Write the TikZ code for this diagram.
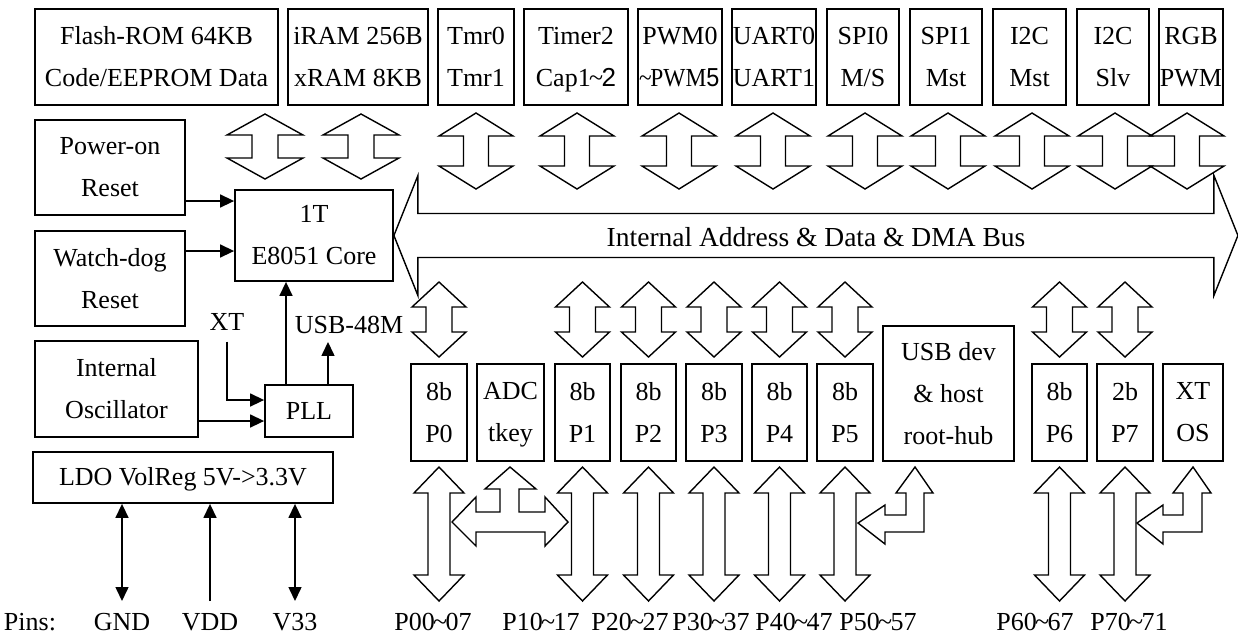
\documentclass[tikz,border=0pt]{standalone}
\usepackage{fontspec}
\usepackage{graphicx}
\setmainfont{Liberation Serif}
\newfontfamily\sansdigit{Liberation Sans}
\usetikzlibrary{arrows.meta,calc}
\newcommand{\bigfs}{\fontsize{26}{42}\selectfont}
\newcommand{\tld}{\kern-0.06em\textasciitilde\kern-0.06em}
% hollow vertical double arrow: top tip, length, head half, shaft half, head length
\newcommand{\vdbl}[5]{\draw[hollow] #1 -- ++(#3,#5) -- ++({#4-#3},0)
  -- ++(0,{#2-2*#5}) -- ++({#3-#4},0) -- ++({-#3},#5) -- ++({-#3},{-#5})
  -- ++({#3-#4},0) -- ++(0,{-(#2-2*#5)}) -- ++({#4-#3},0) -- cycle;}
\tikzset{
  blk/.style    = {draw, line width=1.8pt, align=center, inner sep=0pt, font=\bigfs},
  topblk/.style = {blk, minimum height=96},
  portblk/.style= {blk, minimum height=97},
  lbl/.style    = {font=\bigfs, inner sep=0pt},
  hollow/.style = {line width=1.4pt, line join=miter},
  ar/.style     = {-{Triangle[length=14pt,width=13pt]}, line width=1.5pt},
  dar/.style    = {{Triangle[length=14pt,width=13pt]}-{Triangle[length=14pt,width=13pt]}, line width=1.5pt}
}

\begin{document}
\begin{tikzpicture}[x=1pt, y=-1pt]
\useasboundingbox (0,0) rectangle (1238,641);

% peripheral row
\node[topblk, minimum width=243] (flash) at (156.5,57) {Flash-ROM 64KB\\Code/EEPROM Data};
\node[topblk, minimum width=140] (iram)  at (358,57)   {iRAM 256B\\xRAM 8KB};
\node[topblk, minimum width=76]  (tmr)   at (476,57)   {Tmr0\\Tmr1};
\node[topblk, minimum width=104] (timer) at (576,57)   {\strut Timer2\\\strut Cap1\tld{\sansdigit 2}};
\node[topblk, minimum width=84]  (pwm)   at (680,57)   {PWM0\\\scalebox{0.9}[1]{\tld PWM{\sansdigit 5}}};
\node[topblk, minimum width=84]  (uart)  at (774,57)   {UART0\\UART1};
\node[topblk, minimum width=72]  (spi0)  at (863,57)   {SPI0\\M/S};
\node[topblk, minimum width=72]  (spi1)  at (946,57)   {SPI1\\Mst};
\node[topblk, minimum width=73]  (i2cm)  at (1029.5,57){I2C\\Mst};
\node[topblk, minimum width=72]  (i2cs)  at (1113,57)  {I2C\\Slv};
\node[topblk, minimum width=64]  (rgb)   at (1191,57)  {RGB\\PWM};

% core side
\node[blk, minimum width=150, minimum height=95] (por)  at (110,167.5) {Power-on\\Reset};
\node[blk, minimum width=150, minimum height=95] (wdg)  at (110,278.5) {Watch-dog\\Reset};
\node[blk, minimum width=163, minimum height=96] (osc)  at (116.5,389) {Internal\\Oscillator};
\node[blk, minimum width=158, minimum height=91] (core) at (314,235.5) {1T\\E8051 Core};
\node[blk, minimum width=88, minimum height=52]  (pll)  at (309,411)   {PLL};
\node[blk, minimum width=300, minimum height=51] (ldo)  at (183,477.5) {\strut LDO VolReg 5V->3.3V};
\node[lbl] (xt)    at (227,322) {XT};
\node[lbl] (usb48) at (349,325) {USB-48M};

\draw[ar] (por.east |- 0,201) -- (core.west |- 0,201);
\draw[ar] (wdg.east |- 0,251) -- (core.west |- 0,251);
\draw[ar] (osc.east |- 0,421) -- (pll.west |- 0,421);
\draw[ar] ([yshift=-11pt]xt.south) |- (pll.west |- 0,400);
\draw[ar] (pll.north -| 286,0) -- (core.south -| 286,0);
\draw[ar] (pll.north -| 328,0) -- ([yshift=-8pt]usb48.south -| 328,0);

% ports
\node[portblk, minimum width=56] (p0)  at (439,412.5)   {8b\\P0};
\node[portblk, minimum width=67] (adc) at (510.5,412.5) {\strut ADC\\\strut tkey};
\node[portblk, minimum width=55] (p1)  at (582.5,412.5) {8b\\P1};
\node[portblk, minimum width=55] (p2)  at (648.5,412.5) {8b\\P2};
\node[portblk, minimum width=56] (p3)  at (714,412.5)   {8b\\P3};
\node[portblk, minimum width=55] (p4)  at (779.5,412.5) {8b\\P4};
\node[portblk, minimum width=56] (p5)  at (845,412.5)   {8b\\P5};
\node[blk, minimum width=131, minimum height=135] (usb) at (948.5,393.5) {USB dev\\\& host\\root-hub};
\node[portblk, minimum width=55] (p6)  at (1059.5,412.5){8b\\P6};
\node[portblk, minimum width=56] (p7)  at (1125,412.5)  {2b\\P7};
\node[portblk, minimum width=60] (xtos) at (1193,412.5) {XT\\OS};

% bus
\draw[hollow] (core.east) -- ++(24,-60) -- ++(0,38) -- ++(796,0) -- ++(0,-38)
  -- ++(24,60) -- ++(-24,60) -- ++(0,-38) -- ++(-796,0) -- ++(0,38) -- cycle;
\node[lbl, font=\fontsize{27.5}{33}\selectfont] (bus) at (816,237) {Internal Address \& Data \& DMA Bus};

\foreach \x in {476,577,679,773,865,948,1032,1115,1187}
  {\vdbl{(\x,113)}{76}{37}{12.5}{23}}
\foreach \x in {265,361}
  {\vdbl{(\x,114)}{65}{38}{13}{21}}
\foreach \p in {p0,p1,p2,p3,p4,p5,p6,p7}
  {\vdbl{(\p.north |- 0,282)}{75}{27}{13}{25}}
\foreach \p in {p0,p1,p2,p3,p4,p5,p6,p7}
  {\vdbl{(\p.south |- 0,467)}{134}{25}{11}{26}}

% adc / usb / xtal side arrows
\draw[hollow] (452,522) -- (476,497) -- (476,512) -- (500,512) -- (500,489) -- (485,489)
  -- (510,467) -- (536,489) -- (519,489) -- (519,512) -- (545,512) -- (545,497)
  -- (568,522) -- (545,546) -- (545,532) -- (476,532) -- (476,546) -- cycle;
\draw[hollow] (858,523) -- (885,505) -- (885,515) -- (906,515) -- (906,493) -- (896,493)
  -- (915,467) -- (933,493) -- (924,493) -- (924,532) -- (885,532) -- (885,544) -- cycle;
\draw[hollow] (1137,523) -- (1163,505) -- (1163,515) -- (1183,515) -- (1183,493) -- (1173,493)
  -- (1193,467) -- (1211,493) -- (1202,493) -- (1202,532) -- (1163,532) -- (1163,544) -- cycle;

% pins
\node[lbl] (pins) at (30,622)   {Pins:};
\node[lbl] (gnd)  at (122,622)  {GND};
\node[lbl] (vdd)  at (210,622)  {VDD};
\node[lbl] (v33)  at (295,622)  {V33};
\node[lbl] (q0)   at (433,622)  {P00\tld07};
\node[lbl] (q1)   at (541,622)  {P10\tld17};
\node[lbl] (q2)   at (630,622)  {P20\tld27};
\node[lbl] (q3)   at (711,622)  {P30\tld37};
\node[lbl] (q4)   at (794,622)  {P40\tld47};
\node[lbl] (q5)   at (878,622)  {P50\tld57};
\node[lbl] (q6)   at (1035,622) {P60\tld67};
\node[lbl] (q7)   at (1129,622) {P70\tld71};

\draw[dar] (gnd |- ldo.south) -- (gnd |- 0,601);
\draw[ar]  (vdd |- 0,601) -- (vdd |- ldo.south);
\draw[dar] (v33 |- ldo.south) -- (v33 |- 0,601);
\end{tikzpicture}
\end{document}
